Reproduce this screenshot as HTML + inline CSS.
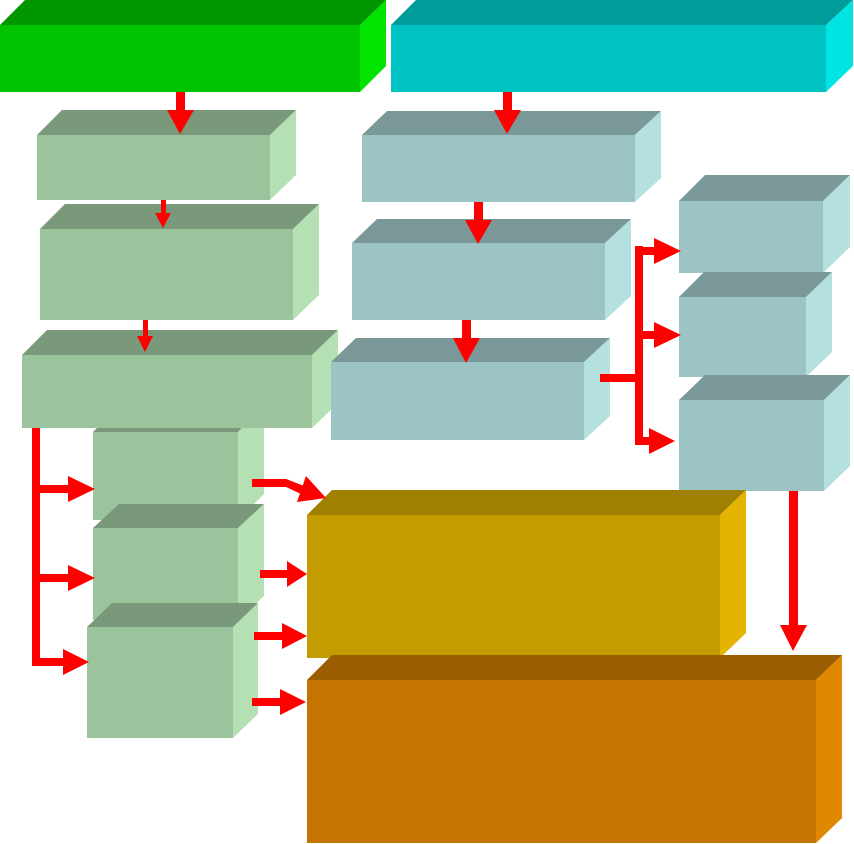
<!DOCTYPE html>
<html><head><meta charset="utf-8"><style>html,body{margin:0;padding:0;background:#fff}svg{display:block}</style></head>
<body>
<svg width="854" height="844" viewBox="0 0 854 844" xmlns="http://www.w3.org/2000/svg">
<polygon points="0,25 25,0 386,0 360,25" fill="#009600"/>
<rect x="0" y="25" width="360" height="67" fill="#00c400"/>
<polygon points="360,25 386,0 386,66 360,92" fill="#00e400"/>
<polygon points="391,25 416,0 853,0 826,25" fill="#009c9c"/>
<rect x="391" y="25" width="435" height="67" fill="#00c4c4"/>
<polygon points="826,25 853,0 853,66 826,92" fill="#00e4e4"/>

<g>
<polygon points="93,432 119,406 264,406 238,432" fill="#7a987a"/>
<rect x="93" y="432" width="145" height="88" fill="#9cc49c"/>
<polygon points="238,432 264,406 264,494 238,520" fill="#b4e0b4"/>
<polygon points="93,528 119,504 264,504 238,528" fill="#7a987a"/>
<rect x="93" y="528" width="145" height="92" fill="#9cc49c"/>
<polygon points="238,528 264,504 264,596 238,620" fill="#b4e0b4"/>
<polygon points="87,627 112,603 258,603 233,627" fill="#7a987a"/>
<rect x="87" y="627" width="146" height="111" fill="#9cc49c"/>
<polygon points="233,627 258,603 258,714 233,738" fill="#b4e0b4"/>
<polygon points="37,135 62,110 296,110 270,135" fill="#7a987a"/>
<rect x="37" y="135" width="233" height="65" fill="#9cc49c"/>
<polygon points="270,135 296,110 296,175 270,200" fill="#b4e0b4"/>
<polygon points="40,229 65,204 319,204 293,229" fill="#7a987a"/>
<rect x="40" y="229" width="253" height="91" fill="#9cc49c"/>
<polygon points="293,229 319,204 319,295 293,320" fill="#b4e0b4"/>
<polygon points="22,355 47,330 338,330 312,355" fill="#7a987a"/>
<rect x="22" y="355" width="290" height="73" fill="#9cc49c"/>
<polygon points="312,355 338,330 338,403 312,428" fill="#b4e0b4"/>
</g>

<g>
<polygon points="362,135 387,111 661,111 635,135" fill="#7a9898"/>
<rect x="362" y="135" width="273" height="67" fill="#9cc4c4"/>
<polygon points="635,135 661,111 661,178 635,202" fill="#b4e0e0"/>
<polygon points="352,243 377,219 631,219 605,243" fill="#7a9898"/>
<rect x="352" y="243" width="253" height="77" fill="#9cc4c4"/>
<polygon points="605,243 631,219 631,296 605,320" fill="#b4e0e0"/>
<polygon points="331,362 356,338 610,338 584,362" fill="#7a9898"/>
<rect x="331" y="362" width="253" height="78" fill="#9cc4c4"/>
<polygon points="584,362 610,338 610,416 584,440" fill="#b4e0e0"/>
<polygon points="679,201 705,175 850,175 823,201" fill="#7a9898"/>
<rect x="679" y="201" width="144" height="72" fill="#9cc4c4"/>
<polygon points="823,201 850,175 850,247 823,273" fill="#b4e0e0"/>
<polygon points="679,297 704,272 832,272 806,297" fill="#7a9898"/>
<rect x="679" y="297" width="127" height="80" fill="#9cc4c4"/>
<polygon points="806,297 832,272 832,352 806,377" fill="#b4e0e0"/>
<polygon points="679,400 705,375 850,375 824,400" fill="#7a9898"/>
<rect x="679" y="400" width="145" height="91" fill="#9cc4c4"/>
<polygon points="824,400 850,375 850,466 824,491" fill="#b4e0e0"/>
</g>

<polygon points="307,515 332,490 746,490 720,515" fill="#a08000"/>
<rect x="307" y="515" width="413" height="143" fill="#c49c00"/>
<polygon points="720,515 746,490 746,633 720,658" fill="#e4b400"/>
<polygon points="307,680 332,655 842,655 816,680" fill="#9c5c00"/>
<rect x="307" y="680" width="509" height="163" fill="#c47400"/>
<polygon points="816,680 842,655 842,818 816,843" fill="#e08800"/>

<g fill="#ff0000" stroke="none">
<rect x="176" y="92" width="9" height="18"/><polygon points="167,110 194,110 180,134"/>
<rect x="503" y="92" width="9" height="18"/><polygon points="494,110 521,110 507,134"/>
<rect x="161" y="200" width="5" height="14"/><polygon points="155,213 171,213 163,228"/>
<rect x="474" y="202" width="9" height="20"/><polygon points="465,220 492,220 478,244"/>
<rect x="143" y="320" width="5" height="17"/><polygon points="137,336 153,336 145,352"/>
<rect x="462" y="320" width="9" height="20"/><polygon points="453,338 480,338 466,363"/>
<rect x="789" y="491" width="9" height="136"/><polygon points="780,625 807,625 793,651"/>
<rect x="32" y="428" width="8" height="238"/>
<rect x="32" y="485" width="40" height="8"/><polygon points="68,476 68,502 95,489"/>
<rect x="32" y="574" width="40" height="8"/><polygon points="68,565 68,591 95,578"/>
<rect x="32" y="658" width="35" height="8"/><polygon points="63,649 63,675 89,662"/>
<rect x="635" y="246" width="8" height="199"/>
<rect x="600" y="374" width="40" height="8"/>
<rect x="643" y="247" width="15" height="8"/><polygon points="654,238 654,264 681,251"/>
<rect x="643" y="331" width="15" height="8"/><polygon points="654,322 654,348 681,335"/>
<rect x="635" y="437" width="22" height="8"/><polygon points="649,428 649,454 675,441"/>
<rect x="252" y="479" width="34" height="8"/>
<polygon points="286,479 304,486 301,494 286,487"/>
<polygon points="297,502 306,476 326,498"/>
<rect x="260" y="570" width="30" height="8"/><polygon points="287,561 287,587 307,574"/>
<rect x="254" y="632" width="31" height="8"/><polygon points="282,623 282,649 307,636"/>
<rect x="252" y="698" width="30" height="8"/><polygon points="280,689 280,715 306,702"/>
</g>
</svg>
</body></html>
